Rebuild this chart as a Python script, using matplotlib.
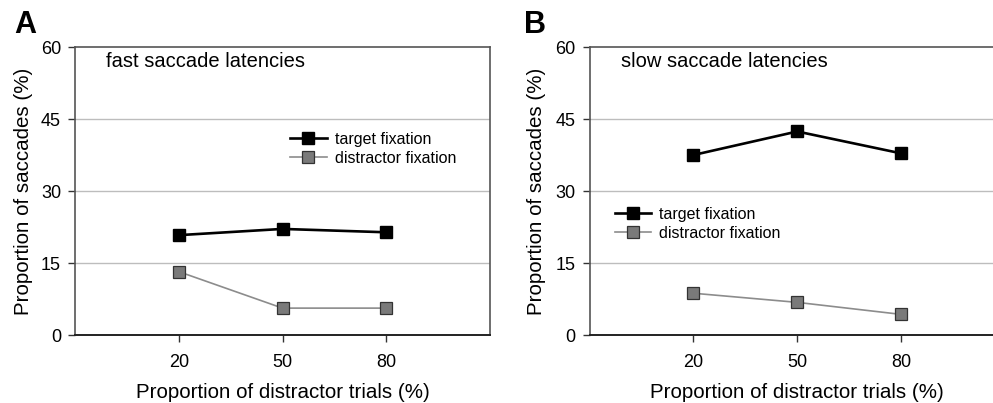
import matplotlib
matplotlib.use("Agg")
import matplotlib.pyplot as plt

plt.rcParams['font.family'] = ['Liberation Sans', 'DejaVu Sans']

categories = ["20", "50", "80"]
fast_target = [20.8, 22.1, 21.4]
fast_distractor = [13.2, 5.6, 5.6]
slow_target = [37.5, 42.4, 37.85]
slow_distractor = [8.7, 6.8, 4.3]
yticks = [0, 15, 30, 45, 60]

W, H = 993, 403
fig = plt.figure(figsize=(W / 100, H / 100), dpi=100)

def px_axes(l, r, t, b):
    return fig.add_axes([l / W, 1 - b / H, (r - l) / W, (b - t) / H])

axA = px_axes(75, 490, 47, 335)
axB = px_axes(589.7, 1004.7, 47, 335)

panels = [
    (axA, fast_target, fast_distractor, "fast saccade latencies", "A",
     (0.518, 0.705), -0.125, 14),
    (axB, slow_target, slow_distractor, "slow saccade latencies", "B",
     (0.06, 0.445), -0.127, 524),
]

xpos = [1, 2, 3]
for ax, tgt, dis, title, letter, leg_anchor, ylab_x, letter_x in panels:
    ax.set_xlim(0, 4)
    ax.set_ylim(0, 60)
    ax.set_yticks(yticks)
    ax.set_xticks(xpos)
    ax.set_xticklabels(categories)
    for y in [15, 30, 45]:
        ax.axhline(y, color='#bdbdbd', lw=1.0, zorder=0)
    ax.plot(xpos, tgt, color='black', lw=1.9, marker='s', ms=8.5,
            mfc='black', mec='black', label='target fixation', zorder=3)
    ax.plot(xpos, dis, color='#8c8c8c', lw=1.2, marker='s', ms=8.5,
            mfc='#7a7a7a', mec='#333333', mew=0.9, label='distractor fixation', zorder=3)
    for s in ['left', 'top', 'right']:
        ax.spines[s].set_color('#555555')
        ax.spines[s].set_linewidth(1.2)
    ax.spines['bottom'].set_color('#222222')
    ax.spines['bottom'].set_linewidth(1.4)
    ax.tick_params(axis='both', direction='out', length=5, width=1,
                   colors='#333333', labelsize=13, labelcolor='black')
    ax.tick_params(axis='x', pad=9)
    ax.tick_params(axis='y', pad=5)
    ax.text(0.0747, 0.948, title, transform=ax.transAxes, fontsize=14.5,
            ha='left', va='center')
    ax.set_xlabel("Proportion of distractor trials (%)", fontsize=14.8)
    ax.xaxis.label.set_verticalalignment('center')
    ax.xaxis.set_label_coords(0.5, -0.198)
    ax.set_ylabel("Proportion of saccades (%)", fontsize=14.8)
    ax.yaxis.label.set_verticalalignment('center')
    ax.yaxis.set_label_coords(ylab_x, 0.5)
    ax.legend(loc='upper left', bbox_to_anchor=leg_anchor, frameon=False,
              fontsize=11.5, borderpad=0, borderaxespad=0, handlelength=2.3,
              handletextpad=0.5, labelspacing=0.25, markerscale=0.95)
    fig.text(letter_x / W, 1 - 25 / H, letter, fontsize=22, fontweight='bold',
             ha='left', va='center')

fig.savefig("out.png", dpi=100)
